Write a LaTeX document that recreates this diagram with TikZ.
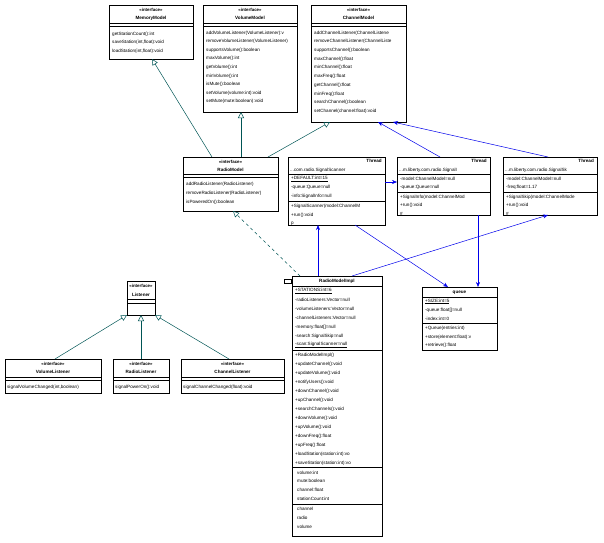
\documentclass[tikz,border=0pt]{standalone}
\usepackage{fontspec}
\setmainfont{Liberation Sans}
\usetikzlibrary{arrows.meta,shadows,calc}
\definecolor{navy}{RGB}{0,0,120}
\definecolor{teal2}{RGB}{0,85,85}
\definecolor{blue2}{RGB}{0,0,235}
\newcommand\hsep[2]{\draw[seprule] (#1.west |- 0,#2) -- (#1.east |- 0,#2);}
\newcommand\mlist[5]{\foreach \t [count=\i] in {#5} {\node[txt] (#1\i) at (#2,{#3+(\i-1)*#4}) {\t};}}
\begin{document}
\begin{tikzpicture}[x=1pt,y=-1pt,
  box/.style={draw=black,fill=white,line width=0.5pt,inner sep=0pt,outer sep=0pt,anchor=north west,
    drop shadow={shadow xshift=1.3pt,shadow yshift=-1.3pt,fill=navy,opacity=1}},
  txt/.style={anchor=west,inner sep=0pt,font=\fontsize{4.6}{5}\selectfont},
  hdr/.style={anchor=center,inner sep=0pt,font=\fontsize{4.4}{5}\selectfont\bfseries},
  hdrb/.style={anchor=center,inner sep=0pt,font=\fontsize{4.6}{5}\selectfont\bfseries},
  seprule/.style={line width=0.5pt},
  gen/.style={draw=teal2,line width=0.5pt,-{Triangle[open,length=6pt,width=6pt]}},
  real/.style={gen,dashed},
  assoc/.style={draw=blue2,line width=0.5pt,-{Stealth[length=5pt,width=4pt]}}]
\useasboundingbox (0,0) rectangle (604,542);

% MemoryModel
\node[box,minimum width=84pt,minimum height=54pt] (mem) at (109,5) {};
\node[hdr] (memh1) at (151,10) {«interface»};
\node[hdrb] (memh2) at (151,18) {MemoryModel};
\hsep{mem}{23}\hsep{mem}{26}
\mlist{memm}{112}{34}{8.7}{getStationCount():int,{saveStation(int,float):void},{loadStation(int,float):void}}

% VolumeModel
\node[box,minimum width=94pt,minimum height=107pt] (vol) at (203,5) {};
\node[hdr] (volh1) at (250,10) {«interface»};
\node[hdrb] (volh2) at (250,18) {VolumeModel};
\hsep{vol}{23}\hsep{vol}{26}
\mlist{volm}{206}{33}{8.6}{addVolumeListener(VolumeListener):v,removeVolumeListener(VolumeListener),supportsVolume():boolean,maxVolume():int,getVolume():int,minVolume():int,isMute():boolean,setVolume(volume:int):void,setMute(mute:boolean):void}

% ChannelModel
\node[box,minimum width=95pt,minimum height=117pt] (ch) at (311,5) {};
\node[hdr] (chh1) at (358.5,10) {«interface»};
\node[hdrb] (chh2) at (358.5,18) {ChannelModel};
\hsep{ch}{23}\hsep{ch}{26}
\mlist{chm}{314}{33}{8.7}{addChannelListener(ChannelListene,removeChannelListener(ChannelListe,supportsChannel():boolean,maxChannel():float,minChannel():float,maxFreq():float,getChannel():float,minFreq():float,searchChannel():boolean,setChannel(channel:float):void}

% RadioModel
\node[box,minimum width=95pt,minimum height=54pt] (radio) at (183,157) {};
\node[hdr] (radioh1) at (230.5,162) {«interface»};
\node[hdrb] (radioh2) at (230.5,170) {RadioModel};
\hsep{radio}{174.5}\hsep{radio}{177.5}
\mlist{radiom}{186}{184}{9}{addRadioListener(RadioListener),removeRadioListener(RadioListener),isPoweredOn():boolean}

% Thread 1 : SignalScanner
\node[box,minimum width=97pt,minimum height=68pt] (scan) at (288,157) {};
\node[txt,anchor=east,font=\fontsize{4.6}{5}\selectfont\bfseries] (scanh1) at (382,161) {Thread};
\node[txt] (scanh2) at (290,170) {...com.radio.SignalScanner};
\hsep{scan}{174}
\mlist{scanf}{291}{179}{8.5}{\underline{+DEFAULT:int=15},-queue:Queue=null,-info:SignalInfo=null}
\hsep{scan}{201}
\mlist{scanm}{291}{206}{9}{+SignalScanner(model:ChannelM,+run():void,p}

% Thread 2 : SignalInfo
\node[box,minimum width=93pt,minimum height=58pt] (info) at (397,157) {};
\node[txt,anchor=east,font=\fontsize{4.6}{5}\selectfont\bfseries] (infoh1) at (487,161) {Thread};
\node[txt] (infoh2) at (399,170) {...m.liberty.com.radio.SignalI};
\hsep{info}{174}
\mlist{infof}{400}{179}{8.2}{-model:ChannelModel=null,-queue:Queue=null}
\hsep{info}{192}
\mlist{infom}{400}{197}{8.5}{+SignalInfo(model:ChannelMod,+run():void,\#}

% Thread 3 : SignalSkip
\node[box,minimum width=94pt,minimum height=58pt] (skip) at (503,157) {};
\node[txt,anchor=east,font=\fontsize{4.6}{5}\selectfont\bfseries] (skiph1) at (594,161) {Thread};
\node[txt] (skiph2) at (505,170) {...m.liberty.com.radio.SignalSk};
\hsep{skip}{174}
\mlist{skipf}{506}{179}{8.2}{-model:ChannelModel=null,-freq:float=1.17}
\hsep{skip}{192}
\mlist{skipm}{506}{197}{8.5}{+SignalSkip(model:ChannelMode,+run():void,\#}

% queue
\node[box,minimum width=75pt,minimum height=63pt] (queue) at (422,287) {};
\node[hdrb] (queueh) at (459.5,292.5) {queue};
\hsep{queue}{297}
\mlist{queuef}{425}{301.5}{8.5}{\underline{+SIZE:int=5},-queue:float[]=null,-index:int=0}
\hsep{queue}{323}
\mlist{queuem}{425}{328}{8.8}{+Queue(entries:int),+store(element:float):v,+retrieve():float}

% RadioModelImpl
\node[box,minimum width=90pt,minimum height=260pt] (impl) at (292,276) {};
\node[draw,fill=white,line width=0.5pt,minimum width=7pt,minimum height=4pt,inner sep=0pt] (icon) at (288,281) {};
\node[hdrb] (implh) at (337,281) {RadioModelImpl};
\hsep{impl}{286}
\mlist{implf}{295}{291}{9}{\underline{+STATIONS:int=6},-radioListeners:Vector=null,-volumeListeners:Vector=null,-channelListeners:Vector=null,-memory:float[]=null,-search:SignalSkip=null,\underline{-scan:SignalScanner=null}}
\hsep{impl}{350}
\mlist{implm}{295}{355}{9}{+RadioModelImpl(),+updateChannel():void,+updateVolume():void,+notifyUsers():void,+downChannel():void,+upChannel():void,+searchChannels():void,+downVolume():void,+upVolume():void,+downFreq():float,+upFreq():float,+loadStation(station:int):vo,+saveStation(station:int):vo}
\hsep{impl}{467.5}
\mlist{implp}{297}{472.5}{8.8}{volume:int,mute:boolean,channel:float,stationCount:int}
\hsep{impl}{504}
\mlist{impla}{297}{509}{8.8}{channel,radio,volume}

% Listener
\node[box,minimum width=28pt,minimum height=34pt] (lis) at (127,281) {};
\node[hdr] (lish1) at (141,286) {«interface»};
\node[hdrb] (lish2) at (141,294.5) {Listener};
\hsep{lis}{299}\hsep{lis}{303}

% VolumeListener
\node[box,minimum width=96pt,minimum height=34pt] (vl) at (5,359) {};
\node[hdr] (vlh1) at (53,363.5) {«interface»};
\node[hdrb] (vlh2) at (53,371.5) {VolumeListener};
\hsep{vl}{377}\hsep{vl}{380}
\mlist{vlm}{7}{387}{9}{{signalVolumeChanged(int,boolean)}}

% RadioListener
\node[box,minimum width=56pt,minimum height=34pt] (rl) at (113,359) {};
\node[hdr] (rlh1) at (141,363.5) {«interface»};
\node[hdrb] (rlh2) at (141,371.5) {RadioListener};
\hsep{rl}{377}\hsep{rl}{380}
\mlist{rlm}{115}{387}{9}{signalPowerOn():void}

% ChannelListener
\node[box,minimum width=103pt,minimum height=34pt] (cl) at (181,359) {};
\node[hdr] (clh1) at (232.5,363.5) {«interface»};
\node[hdrb] (clh2) at (232.5,371.5) {ChannelListener};
\hsep{cl}{377}\hsep{cl}{380}
\mlist{clm}{183}{387}{9}{signalChannelChanged(float):void}

% generalizations
\draw[gen] ($(radio.north west)+(29,0)$) -- ($(mem.south west)+(43,0)$);
\draw[gen] ($(radio.north west)+(58,0)$) -- ($(vol.south west)+(38,0)$);
\draw[gen] ($(radio.north west)+(85,0)$) -- ($(ch.south west)+(19,0)$);
\draw[real] ($(impl.north west)+(8,0)$) -- ($(radio.south west)+(50,0)$);
\draw[gen] ($(vl.north west)+(50,0)$) -- (lis.south west);
\draw[gen] (rl.north) -- (lis.south);
\draw[gen] ($(cl.north west)+(48,0)$) -- (lis.south east);

% associations
\draw[assoc] ($(info.north west)+(43,0)$) -- ($(ch.south west)+(67,0)$);
\draw[assoc] ($(skip.north west)+(45,0)$) -- ($(ch.south west)+(82,0)$);
\draw[assoc] (scan.east |- 0,182) -- (info.west |- 0,182);
\draw[assoc] ($(impl.north west)+(26,0)$) -- ($(scan.south west)+(30,0)$);
\draw[assoc] ($(impl.north west)+(60,0)$) -- ($(skip.south west)+(45,0)$);
\draw[assoc] ($(scan.south west)+(67,0)$) -- ($(queue.north west)+(26,0)$);
\draw[assoc] ($(info.south west)+(81,0)$) -- ($(queue.north west)+(56,0)$);
\end{tikzpicture}
\end{document}
